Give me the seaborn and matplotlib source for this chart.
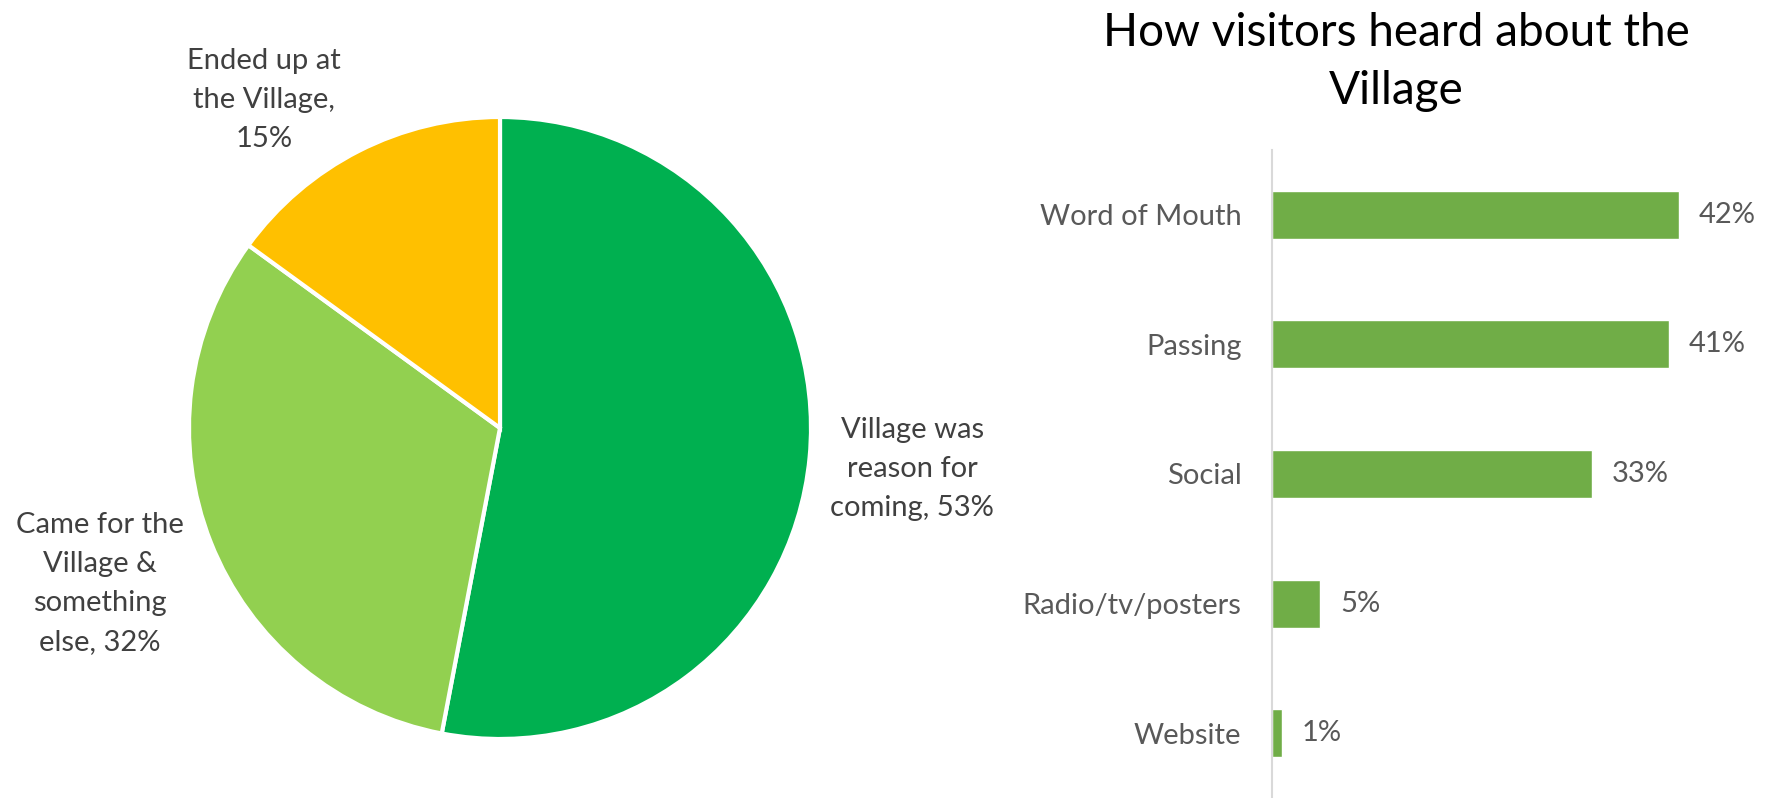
import matplotlib
matplotlib.use("Agg")
import matplotlib.pyplot as plt
import seaborn as sns
import pandas as pd

# Reason for visiting (pie)
reason_labels = ["Village was\nreason for\ncoming, 53%",
                 "Came for the\nVillage &\nsomething\nelse, 32%",
                 "Ended up at\nthe Village,\n15%"]
reason_values = [53, 32, 15]
reason_colors = ["#00B050", "#92D050", "#FFC000"]

# How visitors heard about the Village (bars)
sources = ["Word of Mouth", "Passing", "Social", "Radio/tv/posters", "Website"]
source_pct = [42, 41, 33, 5, 1]

sns.set_theme(style="white")
plt.rcParams["font.family"] = ["Lato", "DejaVu Sans"]

text_grey = "#404040"
tick_grey = "#595959"

fig = plt.figure(figsize=(17.76, 7.98), dpi=100)

# ---- pie ----
W, H = 1776, 798
cx, cy, r = 500, 428, 311
ax_pie = fig.add_axes([(cx - r) / W, (H - cy - r) / H, 2 * r / W, 2 * r / H])
ax_pie.pie(reason_values, colors=reason_colors, startangle=90, counterclock=False,
           radius=1.0, wedgeprops=dict(edgecolor="white", linewidth=3))
ax_pie.set_xlim(-1, 1)
ax_pie.set_ylim(-1, 1)
ax_pie.set_aspect("auto")
ax_pie.axis("off")

label_pos = [(1.325, -0.132), (-1.286, -0.5), (-0.758, 1.055)]
for txt, (x, y) in zip(reason_labels, label_pos):
    ax_pie.text(x, y, txt, ha="center", va="center", fontsize=21,
                color=text_grey, linespacing=1.62, clip_on=False)

# ---- bars ----
ax_bar = fig.add_axes([1272 / W, 0.0, 1 - 1272 / W, (H - 150) / H])
df = pd.DataFrame({"source": sources, "pct": source_pct})
sns.barplot(data=df, x="pct", y="source", orient="h", color="#70AD47",
            saturation=1, width=0.37, ax=ax_bar)
ax_bar.set_xlim(0, 52)
ax_bar.set_ylim(4.5, -0.5)
ax_bar.set_xlabel("")
ax_bar.set_ylabel("")
ax_bar.set_xticks([])
for side in ["top", "right", "bottom"]:
    ax_bar.spines[side].set_visible(False)
ax_bar.spines["left"].set_color("#D9D9D9")
ax_bar.spines["left"].set_linewidth(1.5)
ax_bar.tick_params(axis="y", length=0, pad=22, labelsize=21, labelcolor=tick_grey)

for i, v in enumerate(source_pct):
    ax_bar.annotate(f"{v}%", xy=(v, i), xytext=(14, 0), textcoords="offset points",
                    ha="left", va="center", fontsize=21, color=tick_grey)

fig.text(1396 / W, 1 - 62 / H, "How visitors heard about the\nVillage", ha="center",
         va="center", fontsize=33, color="black", linespacing=1.45)

fig.savefig("out.png", dpi=100)
